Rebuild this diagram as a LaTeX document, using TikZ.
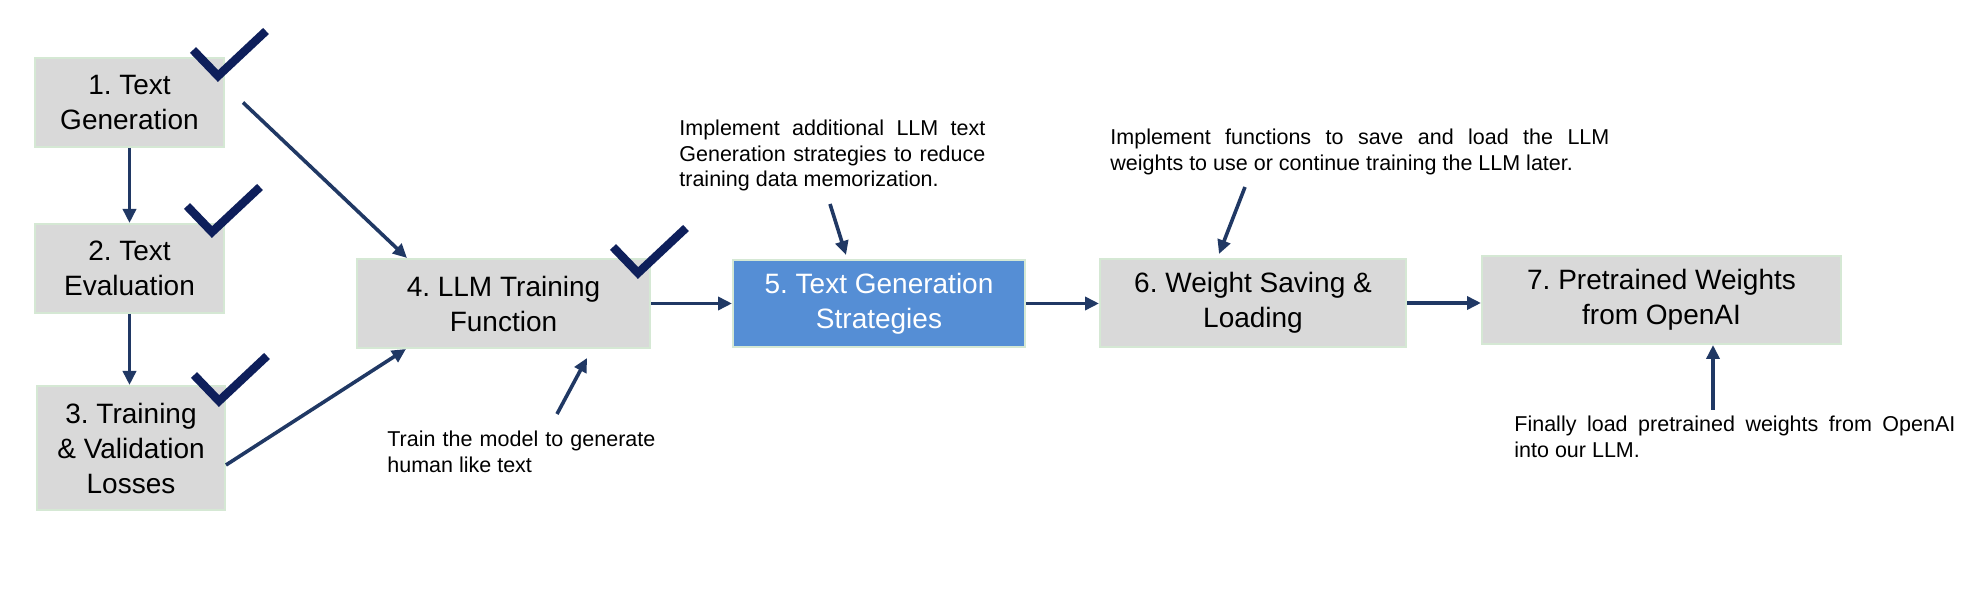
\documentclass[tikz,border=0pt]{standalone}
\usepackage{fontspec}
\setmainfont{Liberation Sans}
\usetikzlibrary{arrows.meta}
\hyphenpenalty=10000
\frenchspacing
\definecolor{kastengrau}{HTML}{D9D9D9}
\definecolor{randgruen}{HTML}{D5E8D4}
\definecolor{aktivblau}{HTML}{558ED5}
\definecolor{pfeilblau}{HTML}{203864}
\definecolor{hakenblau}{HTML}{0E1F5B}
\tikzset{
  kasten/.style={fill=kastengrau,draw=randgruen,line width=1pt,inner sep=0pt,align=center,font=\fontsize{14}{17.5}\selectfont},
  aktiv/.style={kasten,fill=aktivblau,text=white},
  pfeil/.style={-{Triangle[length=7pt,width=6.5pt]},pfeilblau,line width=1.8pt},
  notiz/.style={inner sep=0pt,align=justify,anchor=north west,font=\fontsize{10.75}{12.75}\selectfont},
  haken/.pic={\draw[hakenblau,line width=4.2pt] (-25,-26) -- (0,0) -- (48,-45);},
}

\begin{document}
\begin{tikzpicture}[x=0.5pt,y=-0.5pt]
  \useasboundingbox (0,0) rectangle (1986,592);
  % steps
  \node[kasten,minimum width=94.5pt,minimum height=44.5pt] (b1) at (129.5,102.5) {1. Text\\Generation};
  \node[kasten,minimum width=94.5pt,minimum height=44.5pt] (b2) at (129.5,268.5) {2. Text\\Evaluation};
  \node[kasten,minimum width=94pt,minimum height=62pt] (b3) at (131,448) {3. Training\\\& Validation\\Losses};
  \node[kasten,minimum width=146.5pt,minimum height=44.5pt] (b4) at (503.5,303.5) {4. LLM Training\\Function};
  \node[aktiv,minimum width=146pt,minimum height=43.5pt] (b5) at (879,303.5) {5. Text Generation\\Strategies};
  \node[kasten,minimum width=153pt,minimum height=44pt] (b6) at (1253,303) {6. Weight Saving \&\\Loading};
  \node[kasten,minimum width=179.5pt,minimum height=44pt] (b7) at (1661.5,300) {7. Pretrained Weights\\from OpenAI};
  % notes
  \node[notiz,text width=134pt] (t4) at (387,431) {Train the model to generate human like text};
  \node[notiz,text width=153pt] (t5) at (679,120) {Implement additional LLM text Generation strategies to reduce training data memorization.};
  \node[notiz,text width=249.5pt] (t6) at (1110,129) {Implement functions to save and load the LLM weights to use or continue training the LLM later.};
  \node[notiz,text width=220.5pt] (t7) at (1514,416) {Finally load pretrained weights from OpenAI into our LLM.};
  \coordinate (a4) at (557,414);
  \coordinate (a5) at (830,204);
  \coordinate (a6) at (1245,187);
  \coordinate (a7) at (1713,410);
  % flow
  \draw[pfeil] (b1.south) -- (b1.south |- b2.north);
  \draw[pfeil] (b2.south) -- (b2.south |- b3.north);
  \draw[pfeil] ([xshift=9pt]b1.east) -- ([xshift=25.5pt]b4.north west);
  \draw[pfeil] ([yshift=-8.5pt]b3.east) -- ([xshift=25pt]b4.south west);
  \draw[pfeil] (b4.east) -- (b4.east -| b5.west);
  \draw[pfeil] (b5.east) -- (b5.east -| b6.west);
  \draw[pfeil] (b6.east) -- (b6.east -| b7.west);
  \draw[pfeil] (a4) -- ([xshift=41.75pt,yshift=-4.5pt]b4.south);
  \draw[pfeil] (a5) -- ([xshift=-16.5pt,yshift=2pt]b5.north);
  \draw[pfeil] (a6) -- ([xshift=-17pt,yshift=2pt]b6.north);
  \draw[pfeil] (a7) -- ([xshift=25.75pt]b7.south);
  % done marks
  \pic at (218,76) {haken};
  \pic at (212,232) {haken};
  \pic at (219,401) {haken};
  \pic at (638,273) {haken};
\end{tikzpicture}
\end{document}
